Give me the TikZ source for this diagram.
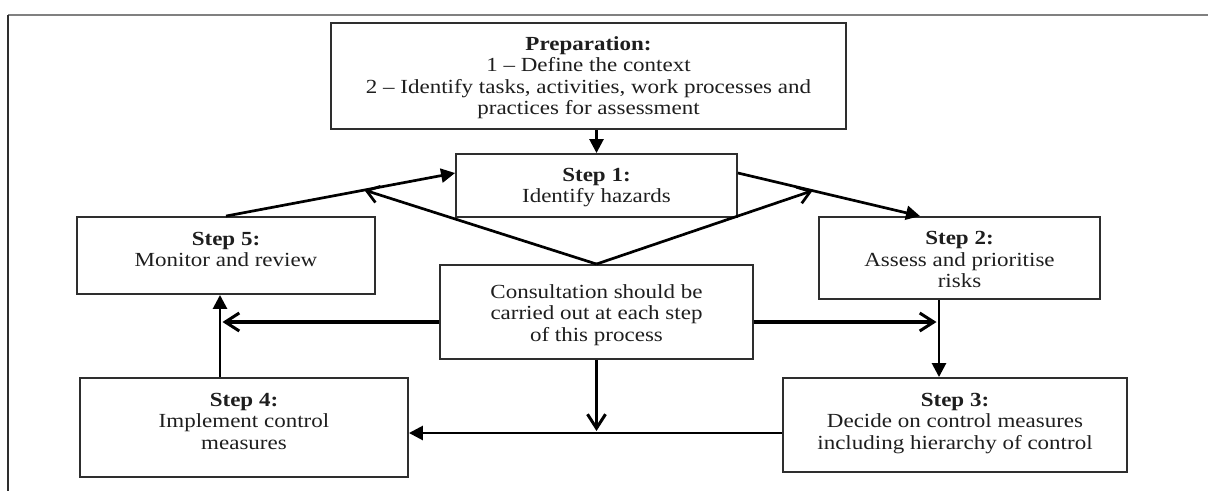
\documentclass[tikz,border=0pt]{standalone}
\usepackage{fontspec}
\setmainfont{Liberation Serif}[FakeStretch=1.15]
\usetikzlibrary{arrows.meta,calc}

\definecolor{ink}{HTML}{1E1E1E}
\definecolor{edge}{HTML}{2E2E2E}
\definecolor{rule}{HTML}{808080}

\tikzset{
  box/.style={draw=edge, line width=1.9pt, inner sep=0pt},
  txt/.style={anchor=north, align=center, inner sep=0pt, text=ink,
    font=\fontsize{20}{21.5}\selectfont, execute at begin node=\strut},
  flow/.style={draw=black, line width=2.7pt,
    -{Triangle[length=14pt, width=14pt]}},
  link/.style={draw=black, line width=2.7pt,
    -{Straight Barb[length=12pt, width=17pt, line width=2.7pt]}},
  wide/.style={draw=black, line width=3.6pt,
    -{Straight Barb[length=14pt, width=18pt, line width=3pt]}},
}

\begin{document}
\begin{tikzpicture}[x=1pt, y=-1pt]
\useasboundingbox (0,0) rectangle (1208,491);

% page rules
\draw[rule, line width=2pt] (8,15) -- (1208,15);
\draw[edge, line width=1.6pt] (8,15) -- (8,491);

% boxes
\node[box, minimum width=515pt, minimum height=106pt] (prep) at (588.5,76) {};
\node[box, minimum width=281pt, minimum height=63pt]  (s1)   at (596.5,185.5) {};
\node[box, minimum width=298pt, minimum height=77pt]  (s5)   at (226,255.5) {};
\node[box, minimum width=281pt, minimum height=82pt]  (s2)   at (959.5,258) {};
\node[box, minimum width=313pt, minimum height=94pt]  (cons) at (596.5,312) {};
\node[box, minimum width=328pt, minimum height=99pt]  (s4)   at (244,427.5) {};
\node[box, minimum width=344pt, minimum height=94pt]  (s3)   at (955,425) {};

% texts
\node[txt] (prep-t) at ([yshift=-14pt]prep.north)
  {\textbf{Preparation:}\\1 – Define the context\\2 – Identify tasks, activities, work processes and\\practices for assessment};
\node[txt] (s1-t) at ([yshift=-15pt]s1.north) {\textbf{Step 1:}\\Identify hazards};
\node[txt] (s5-t) at ([yshift=-16pt]s5.north) {\textbf{Step 5:}\\Monitor and review};
\node[txt] (s2-t) at ([yshift=-15pt]s2.north) {\textbf{Step 2:}\\Assess and prioritise\\risks};
\node[txt] (cons-t) at ([yshift=-20pt]cons.north) {Consultation should be\\carried out at each step\\of this process};
\node[txt] (s4-t) at ([yshift=-15.5pt]s4.north) {\textbf{Step 4:}\\Implement control\\measures};
\node[txt] (s3-t) at ([yshift=-15.5pt]s3.north) {\textbf{Step 3:}\\Decide on control measures\\including hierarchy of control};

% helper points
\coordinate (s1l) at ([yshift=12.5pt]s1.west);
\coordinate (s1r) at ([yshift=12.5pt]s1.east);
\coordinate (s2in) at ([xshift=-39.5pt]s2.north);
\coordinate (bl) at ($(s5.north)!0.604!(s1l)$);
\coordinate (br) at ($(s1r)!0.41!(s2in)$);
\coordinate (v45) at (220,0);
\coordinate (v23) at (939,0);
\coordinate (cl) at (222.5,322);
\coordinate (cr) at (936.5,322);
\coordinate (hl) at ([yshift=-8pt]s3.west);
\coordinate (cd) at (596.5,431);

% main cycle
\draw[flow] (prep.south -| s1.north) -- (s1.north);
\draw[flow] (s5.north) -- (s1l);
\draw[flow] (s1r) -- (s2in);
\draw[flow] (v23 |- s2.south) -- (v23 |- s3.north);
\draw[flow] (hl) -- (s4.east |- hl);
\draw[flow] (v45 |- s4.north) -- (v45 |- s5.south);

% consultation links
\draw[link] (cons.north) -- (bl);
\draw[link] (cons.north) -- (br);
\draw[wide] ([yshift=-10pt]cons.west) -- (cl);
\draw[wide] ([yshift=-10pt]cons.east) -- (cr);
\draw[wide] (cons.south) -- (cd);
\end{tikzpicture}
\end{document}
